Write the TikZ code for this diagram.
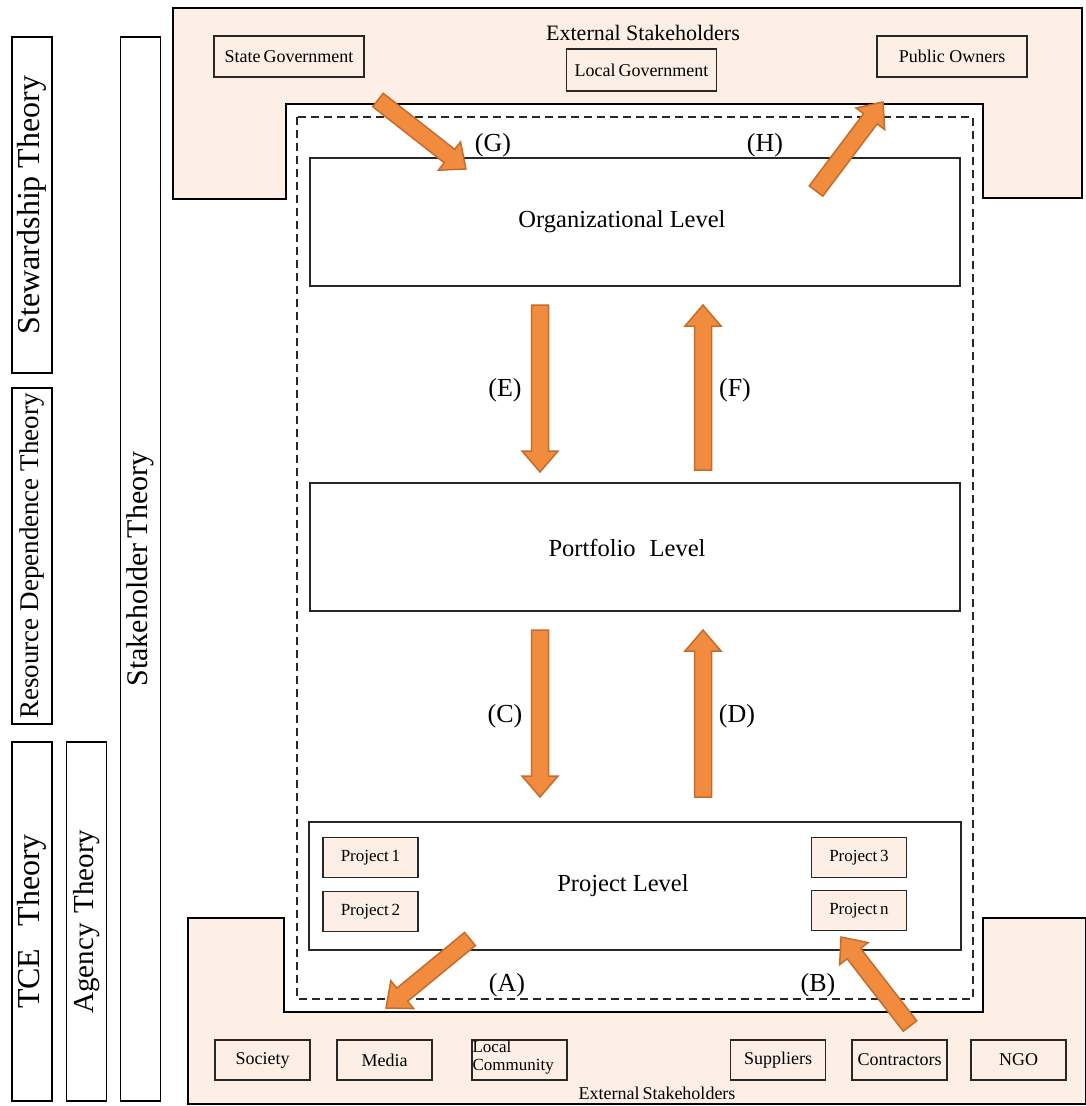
\documentclass[tikz,border=0pt]{standalone}
\usepackage{fontspec}
\setmainfont{Liberation Serif}
\newfontfamily\tnr{Liberation Serif}
\usetikzlibrary{calc}
\definecolor{beige}{RGB}{253,239,230}
\definecolor{arrfill}{RGB}{241,140,62}
\definecolor{arrdraw}{RGB}{196,108,44}
\definecolor{lineg}{RGB}{40,40,40}
\newcommand\fs[1]{\tnr\fontsize{#1}{#1}\selectfont}
\tikzset{
 levelbox/.style={draw=lineg, line width=1.3pt, fill=white, minimum width=650pt, minimum height=128pt, inner sep=0pt},
 leveltext/.style={font=\fs{24.5}, inner sep=0pt},
 smallbox/.style={draw=lineg, line width=1.2pt, fill=beige, minimum width=95pt, minimum height=40pt, inner sep=0pt, font=\fs{18}},
 topbox/.style={smallbox, minimum width=150pt, minimum height=41pt},
 theory/.style={draw=black, line width=1.3pt, fill=white, rotate=90, minimum height=40pt, inner sep=0pt},
 extshape/.style={draw=black, line width=2.5pt, fill=beige, line join=miter},
 scopebox/.style={draw=lineg, line width=1.5pt, dash pattern=on 8pt off 5pt},
 lbl/.style={font=\fs{26}, inner sep=0pt},
 fatarr/.style={fill=arrfill, draw=arrdraw, line width=1.5pt, line join=miter},
}
\newcommand\fatarrow[2]{%
  \path[fatarr] let \p1=(#1), \p2=(#2),
    \n1={atan2(\y2-\y1,\x2-\x1)}, \n2={veclen(\x2-\x1,\y2-\y1)} in
    [shift={(\p1)}, rotate=\n1]
    (0pt,-8.5pt) -- ({\n2*1pt-21pt},-8.5pt) -- ({\n2*1pt-21pt},-18pt) -- ({\n2*1pt},0pt)
    -- ({\n2*1pt-21pt},18pt) -- ({\n2*1pt-21pt},8.5pt) -- (0pt,8.5pt) -- cycle;}
\begin{document}
\begin{tikzpicture}[x=1pt,y=-1pt]
\useasboundingbox (0,0) rectangle (1086,1106);
\fill[white] (0,0) rectangle (1086,1106);

% theory bars
\node[theory, minimum width=336pt, font=\fs{32}] (stew) at (32,205) {Stewardship Theory};
\node[theory, minimum width=336pt, font=\fs{27}] (resdep) at (32,556) {Resource Dependence Theory};
\node[theory, minimum width=359pt, font=\fs{32}] (tce) at (32,921.5) {TCE\hspace{22pt}Theory};
\node[theory, minimum width=359pt, font=\fs{29}] (agency) at (86.5,921.5) {Agency\hspace{10pt}Theory};
\node[theory, minimum width=1064pt, font=\fs{30}] (stake) at (140.5,569) {Stakeholder\,Theory};

% external stakeholder shapes
\draw[extshape] (173,8) -- (1082,8) -- (1082,198) -- (983,198) -- (983,104) -- (286,104) -- (286,199) -- (173,199) -- cycle;
\draw[extshape] (188,1104) -- (188,918) -- (284,918) -- (284,1012) -- (983,1012) -- (983,918) -- (1086,918) -- (1086,1104) -- cycle;

\node[font=\fs{22}] (exttop) at (643,33) {External Stakeholders};
\node[font=\fs{18}] (extbot) at (657,1093) {External\,Stakeholders};

\node[topbox] (stgov) at (289,56.5) {State\,Government};
\node[topbox, minimum height=42pt] (locgov) at (641.5,70) {Local\,Government};
\node[topbox] (pubown) at (952,56.5) {Public Owners};

% dashed boundary
\draw[scopebox] (297,117) rectangle (973,999);

% level boxes
\node[levelbox] (org) at (635,222) {};
\node[leveltext] (orgtxt) at (622,222) {Organizational Level};
\node[levelbox] (port) at (635,547) {};
\node[leveltext] (porttxt) at (627,548) {Portfolio\hspace{14pt}Level};
\node[levelbox, minimum width=652pt] (proj) at (635,886) {};
\node[leveltext] (projtxt) at (623,886) {Project Level};

\node[smallbox, font=\fs{17}] (p1) at (370.5,857.5) {Project\,1};
\node[smallbox, font=\fs{17}] (p2) at (370.5,911.5) {Project\,2};
\node[smallbox, font=\fs{17}] (p3) at (859,857.5) {Project\,3};
\node[smallbox, font=\fs{17}] (pn) at (859,910.5) {Project\,n};

% bottom stakeholder boxes
\node[smallbox] (soc) at (262.5,1060) {Society};
\node[smallbox] (media) at (384.5,1060) {Media};
\node[smallbox] (lcom) at (519.5,1060) {};
\node[font=\tnr\fontsize{17}{18}\selectfont, align=left, anchor=north west, inner sep=1pt] (lcomtxt) at (lcom.north west) {Local\\Community};
\node[smallbox] (supp) at (778,1060) {Suppliers};
\node[smallbox] (contr) at (899.5,1060) {Contractors};
\node[smallbox] (ngo) at (1018.5,1060) {NGO};

% arrow end points
\coordinate (Gs) at (378,100); \coordinate (Ge) at (466,169);
\coordinate (Hs) at (816,191); \coordinate (He) at (883,102);
\coordinate (Es) at (540,305); \coordinate (Ee) at (540,472);
\coordinate (Fs) at (703,470); \coordinate (Fe) at (703,305);
\coordinate (Cs) at (540,630); \coordinate (Ce) at (540,797);
\coordinate (Ds) at (703,797); \coordinate (De) at (703,630);
\coordinate (As) at (470,939); \coordinate (Ae) at (386,1008);
\coordinate (Bs) at (910,1026); \coordinate (Be) at (841,937);

\fatarrow{Gs}{Ge}
\fatarrow{Hs}{He}
\fatarrow{Es}{Ee}
\fatarrow{Fs}{Fe}
\fatarrow{Cs}{Ce}
\fatarrow{Ds}{De}
\fatarrow{As}{Ae}
\fatarrow{Bs}{Be}

% labels
\node[lbl] (lG) at (493,145) {(G)};
\node[lbl] (lH) at (765,145) {(H)};
\node[lbl] (lE) at (505,390) {(E)};
\node[lbl] (lF) at (735,390) {(F)};
\node[lbl] (lC) at (505,716) {(C)};
\node[lbl] (lD) at (737,716) {(D)};
\node[lbl] (lA) at (507,985) {(A)};
\node[lbl] (lB) at (818,985) {(B)};
\end{tikzpicture}
\end{document}
